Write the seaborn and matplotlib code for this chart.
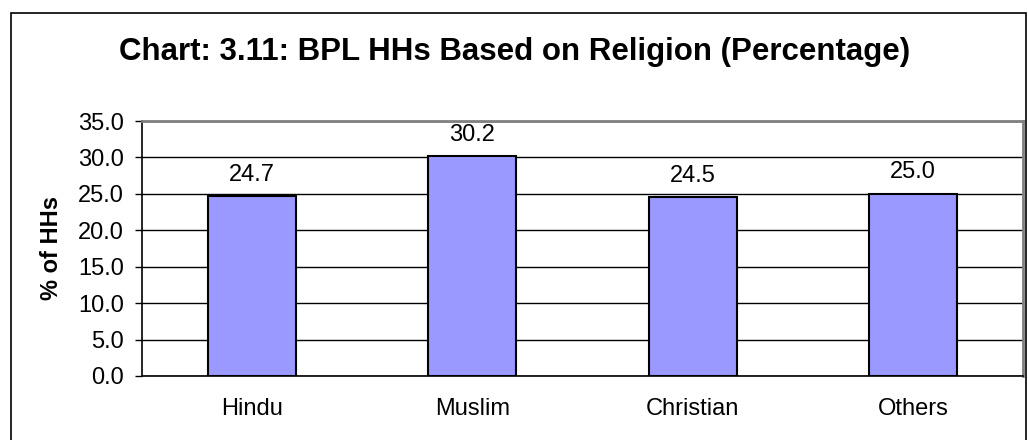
import matplotlib
matplotlib.use("Agg")
import matplotlib.pyplot as plt
import seaborn as sns
import pandas as pd
from matplotlib.patches import Rectangle

religions = ["Hindu", "Muslim", "Christian", "Others"]
bpl_share = [24.7, 30.2, 24.5, 25.0]
y_ticks = [0.0, 5.0, 10.0, 15.0, 20.0, 25.0, 30.0, 35.0]

sns.set_theme(style="white")
plt.rcParams["font.family"] = ["Liberation Sans", "DejaVu Sans"]

df = pd.DataFrame({"religion": religions, "share": bpl_share})

fig = plt.figure(figsize=(10.28, 4.4), dpi=100)
ax = fig.add_axes([142 / 1028, 1 - 376 / 440, (1023 - 142) / 1028, (376 - 121) / 440])

sns.barplot(data=df, x="religion", y="share", ax=ax, width=0.4,
            color="#9999FF", saturation=1, edgecolor="black", linewidth=1.5,
            zorder=3)

ax.set_ylim(0, 35)
ax.set_xlim(-0.5, len(religions) - 0.5)
ax.set_yticks(y_ticks)
ax.set_yticklabels([f"{v:.1f}" for v in y_ticks], fontsize=17, color="black")
ax.yaxis.grid(True, color="black", linewidth=1, zorder=0)
ax.xaxis.grid(False)
ax.set_axisbelow(True)

ax.set_xticks(range(len(religions)))
ax.set_xticklabels(religions, fontsize=17, color="black")
ax.tick_params(axis="x", which="major", length=0, pad=16)
ax.set_xticks([i - 0.5 for i in range(len(religions) + 1)], minor=True)
ax.tick_params(axis="x", which="minor", length=5, width=1, color="black", direction="out")
ax.tick_params(axis="y", length=5, width=1, color="black", direction="out", pad=8, left=True)

ax.set_xlabel("")
ax.set_ylabel("% of HHs", fontsize=17, fontweight="bold", color="black")
ax.yaxis.set_label_coords(-0.09, 0.5)

for side in ["left", "bottom"]:
    ax.spines[side].set_color("black")
    ax.spines[side].set_linewidth(1.2)
for side in ["top", "right"]:
    ax.spines[side].set_color("#808080")
    ax.spines[side].set_linewidth(2)

for i, v in enumerate(bpl_share):
    ax.annotate(f"{v:.1f}", xy=(i, v), xytext=(0, 7.5), textcoords="offset points",
                ha="center", va="bottom", fontsize=17, color="black")

fig.text(515 / 1028, 1 - 52 / 440, "Chart: 3.11: BPL HHs Based on Religion (Percentage)",
         ha="center", va="center", fontsize=22.5, fontweight="bold", color="black")

# Outer chart frame
fig.patches.append(Rectangle((11 / 1028, -0.05), (1026 - 11) / 1028, 1 - 13 / 440 + 0.05,
                             transform=fig.transFigure, fill=False,
                             edgecolor="black", linewidth=1.2))

fig.savefig("out.png", dpi=100)
